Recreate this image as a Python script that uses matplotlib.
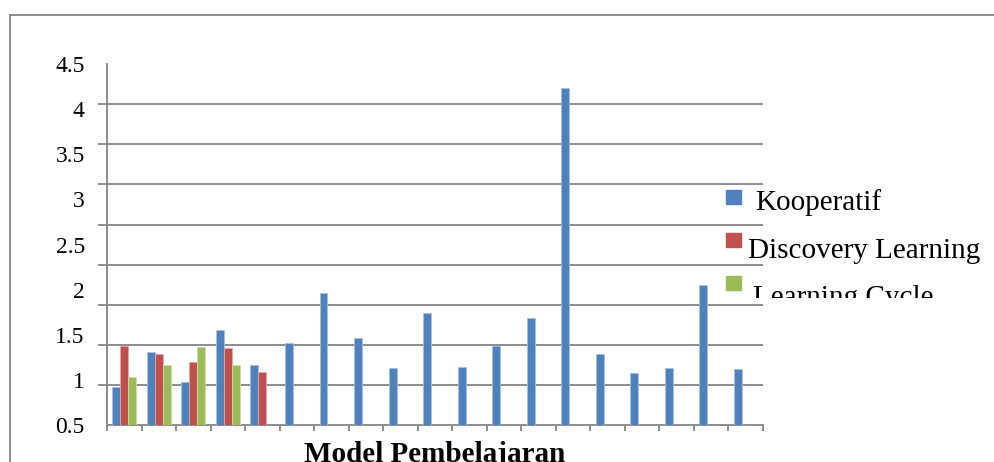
import numpy as np
import matplotlib
matplotlib.use("Agg")
import matplotlib.pyplot as plt
from matplotlib.patches import Rectangle
from matplotlib.lines import Line2D
from matplotlib.transforms import Bbox

# data (y scale given by the tick labels)
series = ["Kooperatif", "Discovery Learning", "Learning Cycle"]
kooperatif = [0.92, 1.31, 0.98, 1.56, 1.17, 1.41, 1.965, 1.47, 1.13, 1.74,
              1.145, 1.38, 1.685, 4.235, 1.29, 1.075, 1.135, 2.05, 1.12]
discovery = [1.38, 1.29, 1.20, 1.36, 1.09] + [np.nan] * 14
learning_cycle = [1.04, 1.166, 1.37, 1.165] + [np.nan] * 15
ytick_values = [0.5, 1, 1.5, 2, 2.5, 3, 3.5, 4, 4.5]
xlabel = "Model Pembelajaran"

colors = ["#4F81BD", "#C0504D", "#9BBB59"]
edges = ["#A7C0DE", "#E0A8A6", "#CDDDAC"]
grey = "#8C8C8C"

W, H = 994, 462
plt.rcParams['font.family'] = ['Liberation Serif', 'DejaVu Serif']

fig = plt.figure(figsize=(W / 100, H / 100), dpi=100)


def fx(x):
    return x / W


def fy(y):
    return 1 - y / H


ax = fig.add_axes([fx(107), fy(425.3), fx(763) - fx(107), fy(64) - fy(425.3)])

n = len(kooperatif)
x = np.arange(n)
width = 0.23
for i, vals in enumerate([kooperatif, discovery, learning_cycle]):
    ax.bar(x + (i - 1) * width, vals, width, bottom=0,
           color=colors[i], edgecolor=edges[i], linewidth=0.6, zorder=3)

ax.set_xlim(-0.5, n - 0.5)
ax.set_ylim(0.5, 4.5)

# labels evenly spread, gridlines/ticks at ten even positions (as in the picture)
ax.set_yticks(ytick_values)
ax.set_yticklabels(["%g" % v for v in ytick_values])
ax.set_yticks(np.linspace(0.5, 4.5, 10), minor=True)
ax.tick_params(axis="y", which="major", length=0, pad=16, labelsize=17)
ax.tick_params(axis="y", which="minor", length=6.5, width=1.4, color=grey)
ax.yaxis.grid(True, which="minor", color=grey, linewidth=1.4, zorder=0)

ax.set_xticks(np.arange(-0.5, n, 1.0))
ax.set_xticklabels([])
ax.tick_params(axis="x", length=4.5, width=1.4, color=grey)

for s in ["top", "right"]:
    ax.spines[s].set_visible(False)
for s in ["left", "bottom"]:
    ax.spines[s].set_color(grey)
    ax.spines[s].set_linewidth(1.4)
ax.set_facecolor("none")

ax.set_xlabel(xlabel, fontsize=21, fontweight="bold", labelpad=3)

# outer chart frame
fig.add_artist(Line2D([fx(9.5), fx(994)], [fy(14.5), fy(14.5)], color=grey, lw=1.4))
fig.add_artist(Line2D([fx(9.5), fx(9.5)], [fy(14.5), fy(462)], color=grey, lw=1.4))

# legend (clipped like in the reference)
marker_y = [190, 233, 276]
text_pos = [(755, 210), (748, 258), (753, 305)]
for i, name in enumerate(series):
    fig.add_artist(Rectangle((fx(726), fy(marker_y[i] + 13.5)), fx(15), 13.5 / H,
                             transform=fig.transFigure, color=colors[i]))
    t = fig.text(fx(text_pos[i][0]), fy(text_pos[i][1]), name, fontsize=21,
                 va="baseline", ha="left")
    t.set_clip_box(Bbox([[0, H - 298], [W, H]]))
    t.set_clip_on(True)

fig.savefig("out.png", dpi=100)
